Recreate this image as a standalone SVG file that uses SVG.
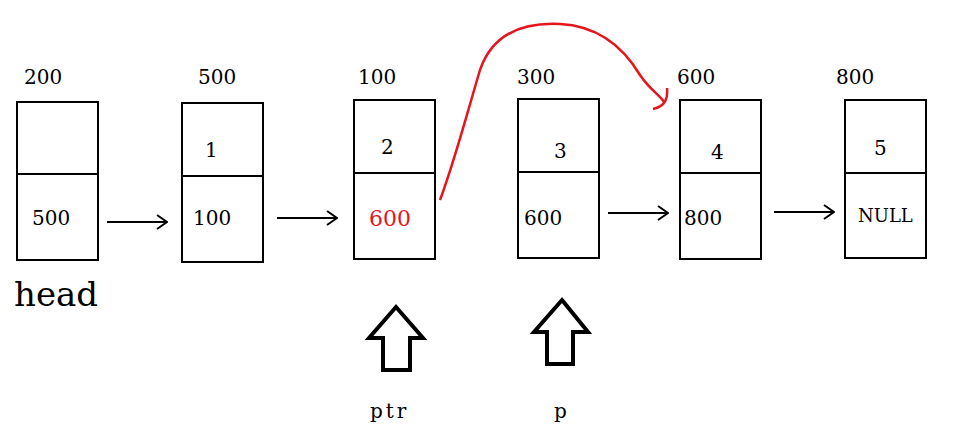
<svg xmlns="http://www.w3.org/2000/svg" width="960" height="442" viewBox="0 0 960 442">
<style>
.box{fill:none;stroke:#000;stroke-width:2}
.t{font-family:"DejaVu Serif","Liberation Serif",serif;font-size:20px;fill:#000}
.ln{stroke:#000;stroke-width:2;fill:none}
</style>
<defs><marker id="ah" markerWidth="12" markerHeight="16" refX="11" refY="8" orient="auto" markerUnits="userSpaceOnUse"><path d="M1,1 L11,8 L1,15" fill="none" stroke="#000" stroke-width="2"/></marker></defs>
<rect width="960" height="442" fill="#fff"/>
<g id="n0"><text class="t" x="24" y="84">200</text><rect class="box" x="17" y="102" width="81" height="158"/><line class="ln" x1="17" y1="174" x2="98" y2="174"/><text class="t" x="32" y="225">500</text><text class="t" x="14" y="306" style="font-size:34px">head</text></g>
<g id="n1"><text class="t" x="198" y="84">500</text><rect class="box" x="182" y="103" width="81" height="159"/><line class="ln" x1="182" y1="176" x2="263" y2="176"/><text class="t" x="205" y="157">1</text><text class="t" x="193" y="225">100</text></g>
<g id="n2"><text class="t" x="358" y="84">100</text><rect class="box" x="354" y="100" width="81" height="159"/><line class="ln" x1="354" y1="173" x2="435" y2="173"/><text class="t" x="381" y="154">2</text><text class="t" x="369" y="226" style="fill:#e8141c;font-size:22px">600</text></g>
<g id="n3"><text class="t" x="517" y="84">300</text><rect class="box" x="518" y="99" width="81" height="159"/><line class="ln" x1="518" y1="172" x2="599" y2="172"/><text class="t" x="554" y="158">3</text><text class="t" x="524" y="225">600</text></g>
<g id="n4"><text class="t" x="677" y="84">600</text><rect class="box" x="680" y="100" width="81" height="159"/><line class="ln" x1="680" y1="173" x2="761" y2="173"/><text class="t" x="711" y="159">4</text><text class="t" x="684" y="225">800</text></g>
<g id="n5"><text class="t" x="836" y="84">800</text><rect class="box" x="845" y="100" width="81" height="158"/><line class="ln" x1="845" y1="173" x2="926" y2="173"/><text class="t" x="874" y="155">5</text><text class="t" x="858" y="222" style="font-size:18px">NULL</text></g>
<g id="ptr"><path class="ln" d="M396,307 L423,338 L410,338 L410,370 L383,370 L383,338 L369,338 Z" style="stroke-width:4"/><text class="t" x="370" y="418" style="letter-spacing:3px">ptr</text></g>
<g id="p"><path class="ln" d="M562,300 L588,332 L573,332 L573,364 L547,364 L547,332 L534,332 Z" style="stroke-width:4"/><text class="t" x="554" y="418">p</text></g>
<g id="connectors">
<line class="ln" x1="107" y1="222" x2="167" y2="222" marker-end="url(#ah)"/>
<line class="ln" x1="277" y1="218" x2="337" y2="218" marker-end="url(#ah)"/>
<line class="ln" x1="608" y1="213" x2="668" y2="213" marker-end="url(#ah)"/>
<line class="ln" x1="774" y1="212" x2="834" y2="212" marker-end="url(#ah)"/>
<path d="M440,200 C455,160 468,110 480,70 C492,35 520,22 560,24 C600,26 625,50 640,75 C650,90 660,95 664,102 M667,88 C668,98 666,106 653,109" fill="none" stroke="#e8141c" stroke-width="2.5"/>
</g>
</svg>
